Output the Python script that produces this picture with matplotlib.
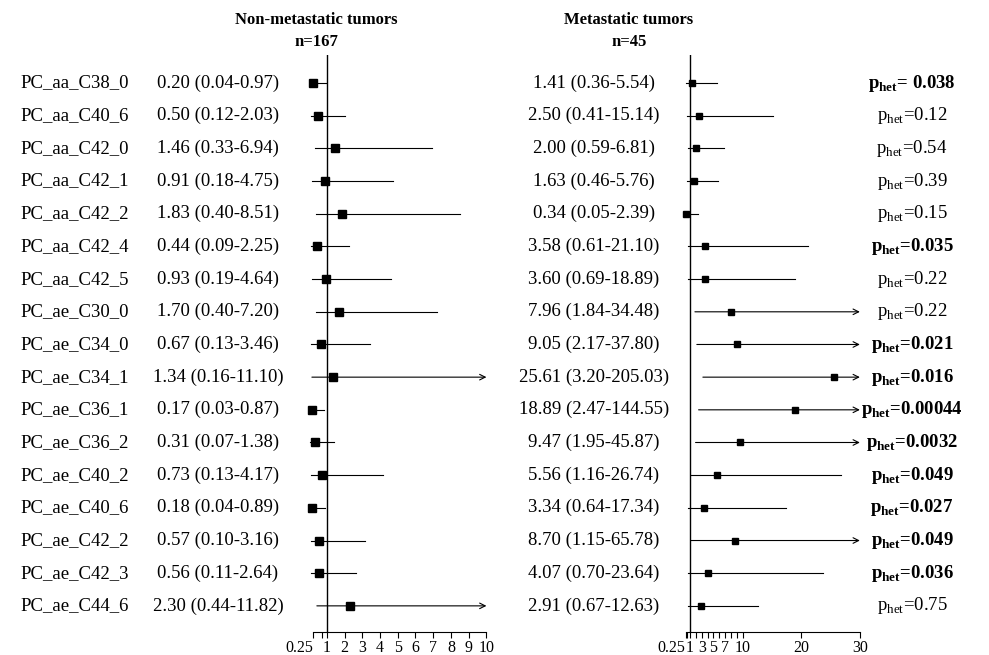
import matplotlib
matplotlib.use("Agg")
import matplotlib.pyplot as plt
from matplotlib.transforms import blended_transform_factory

plt.rcParams['font.family'] = ['Liberation Serif', 'DejaVu Serif']
plt.rcParams['mathtext.fontset'] = 'custom'
plt.rcParams['mathtext.rm'] = 'Liberation Serif'
plt.rcParams['mathtext.bf'] = 'Liberation Serif:bold'

labels = ["PC_aa_C38_0", "PC_aa_C40_6", "PC_aa_C42_0", "PC_aa_C42_1", "PC_aa_C42_2",
          "PC_aa_C42_4", "PC_aa_C42_5", "PC_ae_C30_0", "PC_ae_C34_0", "PC_ae_C34_1",
          "PC_ae_C36_1", "PC_ae_C36_2", "PC_ae_C40_2", "PC_ae_C40_6", "PC_ae_C42_2",
          "PC_ae_C42_3", "PC_ae_C44_6"]

# non-metastatic tumors, n=167
or_non = [0.20, 0.50, 1.46, 0.91, 1.83, 0.44, 0.93, 1.70, 0.67, 1.34, 0.17, 0.31, 0.73, 0.18, 0.57, 0.56, 2.30]
lo_non = [0.04, 0.12, 0.33, 0.18, 0.40, 0.09, 0.19, 0.40, 0.13, 0.16, 0.03, 0.07, 0.13, 0.04, 0.10, 0.11, 0.44]
hi_non = [0.97, 2.03, 6.94, 4.75, 8.51, 2.25, 4.64, 7.20, 3.46, 11.10, 0.87, 1.38, 4.17, 0.89, 3.16, 2.64, 11.82]

# metastatic tumors, n=45
or_met = [1.41, 2.50, 2.00, 1.63, 0.34, 3.58, 3.60, 7.96, 9.05, 25.61, 18.89, 9.47, 5.56, 3.34, 8.70, 4.07, 2.91]
lo_met = [0.36, 0.41, 0.59, 0.46, 0.05, 0.61, 0.69, 1.84, 2.17, 3.20, 2.47, 1.95, 1.16, 0.64, 1.15, 0.70, 0.67]
hi_met = [5.54, 15.14, 6.81, 5.76, 2.39, 21.10, 18.89, 34.48, 37.80, 205.03, 144.55, 45.87, 26.74, 17.34, 65.78, 23.64, 12.63]

p_het = [" 0.038", "0.12", "0.54", "0.39", "0.15", "0.035", "0.22", "0.22", "0.021", "0.016",
         "0.00044", "0.0032", "0.049", "0.027", "0.049", "0.036", "0.75"]

ticks_non = [0.25, 0.75, 1, 2, 3, 4, 5, 6, 7, 8, 9, 10]
ticklab_non = ["0.25", "", "1", "2", "3", "4", "5", "6", "7", "8", "9", "10"]
ticks_met = [0.25, 0.5, 1, 2, 3, 4, 5, 6, 7, 8, 9, 10, 20, 30]
ticklab_met = ["0.25", "", "1", "", "3", "", "5", "", "7", "", "", "10", "20", "30"]

fig = plt.figure(figsize=(9.89, 6.55), dpi=100)
bottom = 1 - 632 / 655
top = 1 - 55 / 655
ax1 = fig.add_axes([305.5 / 989, bottom, 184 / 989, top - bottom])
ax2 = fig.add_axes([681.2 / 989, bottom, 181.7 / 989, top - bottom])

n = len(labels)
ys = list(range(n))


def forest(ax, ors, los, his, xmin, xmax, ticks, ticklab, ms):
    for y, o, l, h in zip(ys, ors, los, his):
        if h > xmax:
            ax.annotate("", xy=(xmax, y), xytext=(l, y),
                        arrowprops=dict(arrowstyle="->", lw=0.8, color="black",
                                        shrinkA=0, shrinkB=0))
        else:
            ax.plot([l, h], [y, y], color="black", lw=0.8)
        ax.plot(o, y, marker="s", color="black", ms=ms, zorder=3)
    ax.axvline(1, color="black", lw=1)
    ax.set_xlim(xmin, xmax + (xmax - xmin) * 0.017)
    ax.set_ylim(16.8, -0.86)
    ax.set_xticks(ticks)
    ax.set_xticklabels(ticklab, fontsize=11.5)
    ax.get_xticklabels()[0].set_ha("right")
    ax.tick_params(axis="x", length=4, width=0.8, pad=2)
    ax.set_yticks([])
    for s in ["left", "right", "top"]:
        ax.spines[s].set_visible(False)
    ax.spines["bottom"].set_bounds(0.25, xmax)
    ax.patch.set_alpha(0)


forest(ax1, or_non, lo_non, hi_non, -0.2, 10, ticks_non, ticklab_non, 5.2)
forest(ax2, or_met, lo_met, hi_met, -0.5, 30, ticks_met, ticklab_met, 3.8)

tr = blended_transform_factory(fig.transFigure, ax1.transData)
for y, lab, o, l, h, o2, l2, h2, p in zip(ys, labels, or_non, lo_non, hi_non,
                                           or_met, lo_met, hi_met, p_het):
    fig.text(20 / 989, y, lab, transform=tr, fontsize=13.5, va="center", ha="left")
    fig.text(218 / 989, y, "%.2f (%.2f-%.2f)" % (o, l, h), transform=tr,
             fontsize=13.5, va="center", ha="center")
    fig.text(594 / 989, y, "%.2f (%.2f-%.2f)" % (o2, l2, h2), transform=tr,
             fontsize=13.5, va="center", ha="center")
    bold = float(p) < 0.05
    fig.text(912 / 989, y, r"p$_{\mathregular{het}}$=" + p, transform=tr, fontsize=13.5,
             va="center", ha="center", fontweight="bold" if bold else "normal")

fig.text(316 / 989, 1 - 20 / 655, "Non-metastatic tumors", fontsize=12, fontweight="bold",
         ha="center", va="center")
fig.text(316 / 989, 1 - 42 / 655, "n=167", fontsize=12, fontweight="bold",
         ha="center", va="center")
fig.text(629 / 989, 1 - 20 / 655, "Metastatic tumors", fontsize=12, fontweight="bold",
         ha="center", va="center")
fig.text(629 / 989, 1 - 42 / 655, "n=45", fontsize=12, fontweight="bold",
         ha="center", va="center")

fig.savefig("out.png", dpi=100)
